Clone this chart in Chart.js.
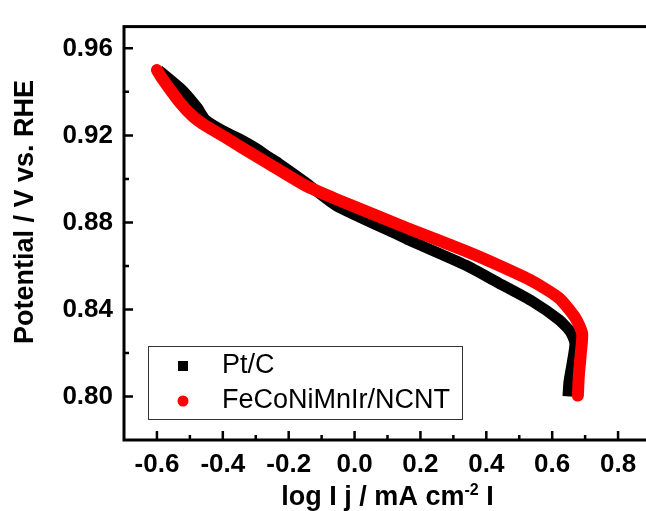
<!DOCTYPE html>
<html>
<head>
<meta charset="utf-8">
<script src="https://cdn.jsdelivr.net/npm/chart.js@4.4.1/dist/chart.umd.min.js"></script>
<style>
  html, body { margin: 0; padding: 0; background: #fff; overflow: hidden; }
  canvas { display: block; }
</style>
</head>
<body>
<canvas id="tafel" width="656" height="511"></canvas>
<script>
// Pt/C  (log|j| vs potential)
const ptcLogJ = [-0.595, -0.523, -0.477, -0.452, -0.401, -0.351, -0.300, -0.260, -0.229, -0.150, -0.057,
  0.135, 0.165, 0.338, 0.439, 0.540, 0.621, 0.656, 0.669, 0.661, 0.651, 0.648];
const ptcPotential = [0.950, 0.9408, 0.9326, 0.9270, 0.9222, 0.9185, 0.9141, 0.9100, 0.9070, 0.8985, 0.8878,
  0.8741, 0.8719, 0.8603, 0.8520, 0.8437, 0.8352, 0.8296, 0.8244, 0.8156, 0.8067, 0.8000];

// FeCoNiMnIr/NCNT
const hecLogJ = [-0.600, -0.583, -0.533, -0.492, -0.452, -0.391, -0.351, -0.250, -0.150, -0.057,
  0.135, 0.165, 0.338, 0.439, 0.540, 0.621, 0.671, 0.691, 0.687, 0.681, 0.678];
const hecPotential = [0.950, 0.9459, 0.9356, 0.9289, 0.9244, 0.9190, 0.9152, 0.9060, 0.8970, 0.8908,
  0.8789, 0.8771, 0.8668, 0.8602, 0.8530, 0.8452, 0.8360, 0.8289, 0.8200, 0.8096, 0.8004];

const seriesNames = ["Pt/C", "FeCoNiMnIr/NCNT"];
const xTicks = [-0.6, -0.4, -0.2, 0.0, 0.2, 0.4, 0.6, 0.8];
const xMinorTicks = [-0.5, -0.3, -0.1, 0.1, 0.3, 0.5, 0.7];
const yTicks = [0.80, 0.84, 0.88, 0.92, 0.96];
const yMinorTicks = [0.82, 0.86, 0.90, 0.94];
const xTitle = ["log I j / mA cm", "-2", " I"]; // base, superscript, tail
const yTitle = "Potential / V vs. RHE";

const FONT = "'Liberation Sans', Arial, sans-serif";

const toPoints = (xs, ys) => xs.map((v, i) => ({ x: v, y: ys[i] }));

// frame, inward ticks, legend box and axis titles
const decorPlugin = {
  id: "decor",
  afterDatasetsDraw(chart) {
    const { ctx, chartArea: a, scales: { x, y } } = chart;
    ctx.save();
    ctx.strokeStyle = "#000";
    ctx.lineWidth = 3;
    ctx.strokeRect(a.left, a.top, a.right - a.left, a.bottom - a.top);

    ctx.lineWidth = 2.5;
    ctx.beginPath();
    xTicks.forEach((v) => {
      const px = x.getPixelForValue(v);
      ctx.moveTo(px, a.bottom); ctx.lineTo(px, a.bottom - 9);
    });
    xMinorTicks.forEach((v) => {
      const px = x.getPixelForValue(v);
      ctx.moveTo(px, a.bottom); ctx.lineTo(px, a.bottom - 5);
    });
    yTicks.forEach((v) => {
      const py = y.getPixelForValue(v);
      ctx.moveTo(a.left, py); ctx.lineTo(a.left + 9, py);
    });
    yMinorTicks.forEach((v) => {
      const py = y.getPixelForValue(v);
      ctx.moveTo(a.left, py); ctx.lineTo(a.left + 5, py);
    });
    ctx.stroke();

    // legend
    ctx.fillStyle = "#fff";
    ctx.fillRect(148, 346, 314, 73);
    ctx.strokeStyle = "#333";
    ctx.lineWidth = 1;
    ctx.strokeRect(148.5, 346.5, 314, 73);
    ctx.fillStyle = "#000";
    ctx.fillRect(178, 361, 10, 10);
    ctx.fillStyle = "#ff0000";
    ctx.beginPath();
    ctx.arc(183, 401, 5.5, 0, Math.PI * 2);
    ctx.fill();
    ctx.fillStyle = "#000";
    ctx.font = "27px " + FONT;
    ctx.textAlign = "left";
    ctx.textBaseline = "middle";
    ctx.fillText(seriesNames[0], 222, 366);
    ctx.fillText(seriesNames[1], 222, 401);

    // x title with superscript
    const big = "bold 27px " + FONT;
    const small = "bold 16px " + FONT;
    ctx.textBaseline = "alphabetic";
    ctx.font = big;
    const w0 = ctx.measureText(xTitle[0]).width;
    const w2 = ctx.measureText(xTitle[2]).width;
    ctx.font = small;
    const w1 = ctx.measureText(xTitle[1]).width;
    let sx = (a.left + a.right) / 2 - (w0 + w1 + w2) / 2;
    const base = 505;
    ctx.font = big;
    ctx.fillText(xTitle[0], sx, base);
    sx += w0;
    ctx.font = small;
    ctx.fillText(xTitle[1], sx, base - 10);
    sx += w1;
    ctx.font = big;
    ctx.fillText(xTitle[2], sx, base);

    // y title
    ctx.translate(26, 212);
    ctx.rotate(-Math.PI / 2);
    ctx.textAlign = "center";
    ctx.textBaseline = "middle";
    ctx.font = big;
    ctx.fillText(yTitle, 0, 0);
    ctx.restore();
  },
};

const tickFont = { family: FONT, size: 26, weight: "bold" };

new Chart(document.getElementById("tafel"), {
  type: "scatter",
  data: {
    datasets: [
      {
        label: seriesNames[1],
        data: toPoints(hecLogJ, hecPotential),
        showLine: true,
        borderColor: "#ff0000",
        borderWidth: 12,
        borderCapStyle: "round",
        borderJoinStyle: "round",
        pointRadius: 0,
        tension: 0.2,
        order: 0,
      },
      {
        label: seriesNames[0],
        data: toPoints(ptcLogJ, ptcPotential),
        showLine: true,
        borderColor: "#000",
        borderWidth: 11,
        borderCapStyle: "butt",
        borderJoinStyle: "round",
        pointRadius: 0,
        tension: 0.2,
        order: 1,
      },
    ],
  },
  options: {
    responsive: false,
    animation: false,
    layout: { padding: { top: 13, right: 5, left: 0, bottom: 0 } },
    plugins: { legend: { display: false }, tooltip: { enabled: false } },
    scales: {
      x: {
        type: "linear",
        min: -0.7,
        max: 0.9,
        afterBuildTicks: (s) => { s.ticks = xTicks.map((v) => ({ value: v })); },
        afterFit: (s) => { s.height = 71; },
        grid: { display: false, drawTicks: false },
        border: { display: false },
        ticks: { font: tickFont, color: "#000", padding: 9, maxRotation: 0, callback: (v) => Number(v).toFixed(1) },
      },
      y: {
        min: 0.78,
        max: 0.97,
        afterBuildTicks: (s) => { s.ticks = yTicks.map((v) => ({ value: v })); },
        afterFit: (s) => { s.width = 124; },
        grid: { display: false, drawTicks: false },
        border: { display: false },
        ticks: { font: tickFont, color: "#000", padding: 11, callback: (v) => Number(v).toFixed(2) },
      },
    },
  },
  plugins: [decorPlugin],
});
</script>
</body>
</html>
